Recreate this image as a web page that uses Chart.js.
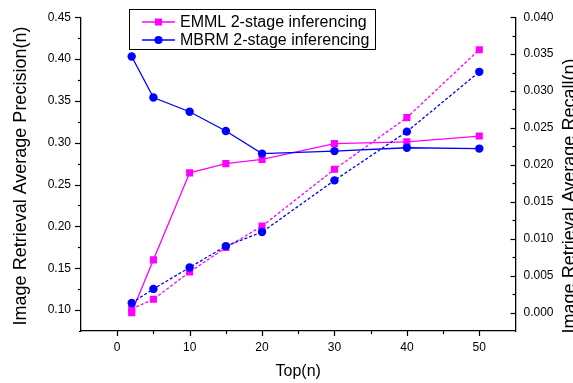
<!DOCTYPE html>
<html>
<head>
<meta charset="utf-8">
<script src="https://cdn.jsdelivr.net/npm/chart.js@4/dist/chart.umd.min.js"></script>
<style>
html, body { margin: 0; padding: 0; background: #fff; overflow: hidden; }
#wrap { width: 573px; height: 383px; }
</style>
</head>
<body>
<div id="wrap"><canvas id="chart" width="573" height="383"></canvas></div>
<script>
const topN = [2, 5, 10, 15, 20, 30, 40, 50];
const emmlPrecision = [0.097, 0.160, 0.264, 0.275, 0.280, 0.299, 0.301, 0.308];
const mbrmPrecision = [0.403, 0.354, 0.337, 0.314, 0.287, 0.290, 0.294, 0.293];
const emmlRecall = [0.0005, 0.0018, 0.0055, 0.0088, 0.0117, 0.0194, 0.0264, 0.0356];
const mbrmRecall = [0.0013, 0.0032, 0.0061, 0.0090, 0.0109, 0.0179, 0.0245, 0.0326];

const xTicks = [0, 10, 20, 30, 40, 50];
const precisionTicks = [0.10, 0.15, 0.20, 0.25, 0.30, 0.35, 0.40, 0.45];
const recallTicks = [0.000, 0.005, 0.010, 0.015, 0.020, 0.025, 0.030, 0.035, 0.040];

const BLUE = "#0000ff";
const MAGENTA = "#ff00ff";
const FONT = "'Liberation Sans', Arial, sans-serif";

const pts = (ys) => topN.map((x, i) => ({ x: x, y: ys[i] }));
const mids = (t) => t.slice(1).map((v, i) => (v + t[i]) / 2);

function line(ctx, x1, y1, x2, y2) {
    ctx.beginPath();
    ctx.moveTo(x1, y1);
    ctx.lineTo(x2, y2);
    ctx.stroke();
}

const extras = {
    id: "extras",
    afterDraw(chart) {
        const ctx = chart.ctx;
        const a = chart.chartArea;
        const sx = chart.scales.x, sp = chart.scales.yP, sr = chart.scales.yR;
        ctx.save();
        ctx.strokeStyle = "#000";
        ctx.lineWidth = 1.2;

        // tick marks, major and minor
        xTicks.forEach(v => { const p = Math.round(sx.getPixelForValue(v)) + 0.5; line(ctx, p, a.bottom, p, a.bottom + 5); });
        mids(xTicks).forEach(v => { const p = Math.round(sx.getPixelForValue(v)) + 0.5; line(ctx, p, a.bottom, p, a.bottom + 3); });
        precisionTicks.forEach(v => { const p = Math.round(sp.getPixelForValue(v)) + 0.5; line(ctx, a.left - 6, p, a.left, p); });
        mids(precisionTicks).forEach(v => { const p = Math.round(sp.getPixelForValue(v)) + 0.5; line(ctx, a.left - 3, p, a.left, p); });
        recallTicks.forEach(v => { const p = Math.round(sr.getPixelForValue(v)) + 0.5; line(ctx, a.right - 5, p, a.right, p); });
        mids(recallTicks).forEach(v => { const p = Math.round(sr.getPixelForValue(v)) + 0.5; line(ctx, a.right - 3, p, a.right, p); });
        // bottom axis pokes a little past the left axis
        line(ctx, a.left - 2, a.bottom + 0.5, a.left, a.bottom + 0.5);

        // axis titles
        ctx.fillStyle = "#000";
        ctx.textAlign = "center";
        ctx.textBaseline = "alphabetic";
        ctx.font = "16px " + FONT;
        ctx.fillText("Top(n)", (a.left + a.right) / 2, 376);

        ctx.font = "18px " + FONT;
        ctx.save();
        ctx.translate(26, 176);
        ctx.rotate(-Math.PI / 2);
        ctx.fillText("Image Retrieval Average Precision(n)", 0, 0);
        ctx.restore();

        ctx.save();
        ctx.translate(575, 196);
        ctx.rotate(-Math.PI / 2);
        ctx.fillText("Image Retrieval Average Recall(n)", 0, 0);
        ctx.restore();

        // legend box
        ctx.fillStyle = "#fff";
        ctx.fillRect(129.5, 9.5, 246, 40);
        ctx.lineWidth = 1;
        ctx.strokeRect(129.5, 9.5, 246, 40);
        const rows = [
            { ds: chart.data.datasets[2], y: 22 },
            { ds: chart.data.datasets[0], y: 40 }
        ];
        rows.forEach(r => {
            ctx.strokeStyle = r.ds.borderColor;
            ctx.lineWidth = 1.3;
            line(ctx, 142, r.y, 175, r.y);
            ctx.fillStyle = r.ds.borderColor;
            if (r.ds.pointStyle === "rect") {
                ctx.fillRect(158.5 - 3.5, r.y - 3.5, 7, 7);
            } else {
                ctx.beginPath();
                ctx.arc(158.5, r.y, 4, 0, Math.PI * 2);
                ctx.fill();
            }
            ctx.fillStyle = "#000";
            ctx.textAlign = "left";
            ctx.textBaseline = "middle";
            ctx.font = "16px " + FONT;
            ctx.fillText(r.ds.label, 180, r.y + 1);
        });
        ctx.restore();
    }
};

const tickFont = { family: FONT, size: 12 };

const ctx = document.getElementById("chart").getContext("2d");
new Chart(ctx, {
    type: "line",
    data: {
        datasets: [
            {
                label: "MBRM 2-stage inferencing",
                data: pts(mbrmPrecision),
                yAxisID: "yP",
                borderColor: BLUE, backgroundColor: BLUE,
                borderWidth: 1.3, pointStyle: "circle", pointRadius: 4.2, pointBorderWidth: 0,
                order: 1
            },
            {
                label: "MBRM recall",
                data: pts(mbrmRecall),
                yAxisID: "yR",
                borderColor: BLUE, backgroundColor: BLUE, borderDash: [3, 2],
                borderWidth: 1.3, pointStyle: "circle", pointRadius: 4.2, pointBorderWidth: 0,
                order: 2
            },
            {
                label: "EMML 2-stage inferencing",
                data: pts(emmlPrecision),
                yAxisID: "yP",
                borderColor: MAGENTA, backgroundColor: MAGENTA,
                borderWidth: 1.3, pointStyle: "rect", pointRadius: 5, pointBorderWidth: 0,
                order: 3
            },
            {
                label: "EMML recall",
                data: pts(emmlRecall),
                yAxisID: "yR",
                borderColor: MAGENTA, backgroundColor: MAGENTA, borderDash: [3, 2],
                borderWidth: 1.3, pointStyle: "rect", pointRadius: 5, pointBorderWidth: 0,
                order: 4
            }
        ]
    },
    options: {
        responsive: false,
        animation: false,
        layout: { padding: { top: 12, left: 0, right: 0, bottom: 0 } },
        plugins: { legend: { display: false }, tooltip: { enabled: false } },
        scales: {
            x: {
                type: "linear", min: -5, max: 55,
                afterBuildTicks: s => { s.ticks = xTicks.map(v => ({ value: v })); },
                afterFit: s => { s.height = 52; },
                grid: { display: false, drawTicks: false },
                border: { display: true, color: "#000", width: 1.3 },
                ticks: { padding: 9, color: "#000", font: tickFont, maxRotation: 0, callback: v => String(v) }
            },
            yP: {
                type: "linear", position: "left", min: 0.075, max: 0.45,
                afterBuildTicks: s => { s.ticks = precisionTicks.map(v => ({ value: v })); },
                afterFit: s => { s.width = 81; },
                grid: { display: false, drawTicks: false },
                border: { display: true, color: "#000", width: 1.3 },
                ticks: { padding: 10, color: "#000", font: tickFont, callback: v => v.toFixed(2) }
            },
            yR: {
                type: "linear", position: "right", min: -0.0025, max: 0.04,
                afterBuildTicks: s => { s.ticks = recallTicks.map(v => ({ value: v })); },
                afterFit: s => { s.width = 57.5; },
                grid: { display: false, drawTicks: false },
                border: { display: true, color: "#000", width: 1.3 },
                ticks: { padding: 8, color: "#000", font: tickFont, callback: v => v.toFixed(3) }
            }
        }
    },
    plugins: [extras]
});
</script>
</body>
</html>
